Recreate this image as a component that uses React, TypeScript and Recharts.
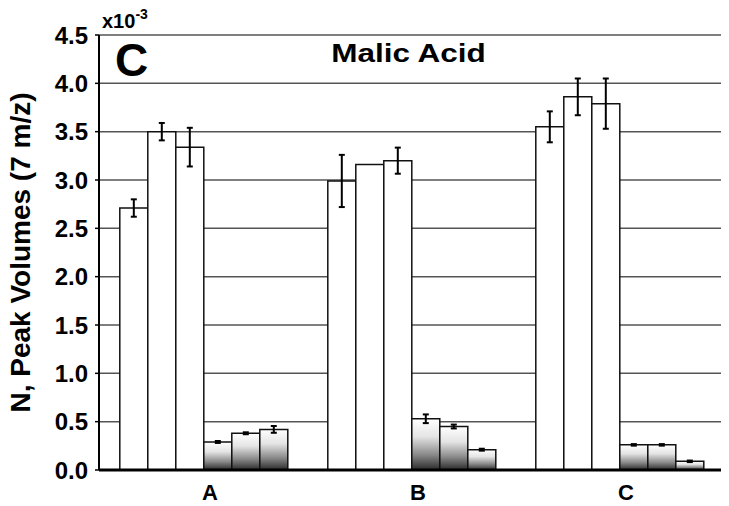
import React from "react";
import {
  BarChart,
  Bar,
  XAxis,
  YAxis,
  CartesianGrid,
  ErrorBar,
  Label,
} from "recharts";

// categories on the x axis
const categories = ["A", "B", "C"];

// three open (white) bars per group
const white1 = [2.71, 2.99, 3.55];
const white2 = [3.5, 3.16, 3.86];
const white3 = [3.34, 3.2, 3.79];
const whiteErr1 = [0.09, 0.27, 0.16];
const whiteErr2 = [0.09, 0, 0.19];
const whiteErr3 = [0.2, 0.135, 0.26];

// three shaded bars per group
const shaded1 = [0.29, 0.53, 0.26];
const shaded2 = [0.38, 0.45, 0.26];
const shaded3 = [0.42, 0.21, 0.09];
const shadedErr1 = [0.01, 0.045, 0.008];
const shadedErr2 = [0.01, 0.02, 0.008];
const shadedErr3 = [0.035, 0.01, 0.008];

const yTicks = [0, 0.5, 1, 1.5, 2, 2.5, 3, 3.5, 4, 4.5];
const edgeTicks = [0, 1, 2, 3];

const data = categories.map((name, i) => ({
  name,
  w1: white1[i],
  w2: white2[i],
  w3: white3[i],
  we1: whiteErr1[i],
  we2: whiteErr2[i],
  we3: whiteErr3[i],
  s1: shaded1[i],
  s2: shaded2[i],
  s3: shaded3[i],
  se1: shadedErr1[i],
  se2: shadedErr2[i],
  se3: shadedErr3[i],
}));

const FONT = '"Liberation Sans", Arial, Helvetica, sans-serif';

const series = [
  { key: "w1", err: "we1", fill: "#ffffff" },
  { key: "w2", err: "we2", fill: "#ffffff" },
  { key: "w3", err: "we3", fill: "#ffffff" },
  { key: "s1", err: "se1", fill: "url(#shade)" },
  { key: "s2", err: "se2", fill: "url(#shade)" },
  { key: "s3", err: "se3", fill: "url(#shade)" },
];

export default function App() {
  return (
    // pull the chart over the body margin so svg coords match the page
    <div style={{ position: "relative", margin: "-8px 0 0 -8px", width: 729, height: 506, fontFamily: FONT }}>
      <BarChart
        width={729}
        height={506}
        data={data}
        margin={{ top: 35, right: 6, left: 0, bottom: 0 }}
        barCategoryGap="10%"
        barGap={0}
      >
        <defs>
          <linearGradient id="shade" x1="0" y1="0" x2="0" y2="1">
            <stop offset="0%" stopColor="#ffffff" />
            <stop offset="35%" stopColor="#e4e4e4" />
            <stop offset="70%" stopColor="#8a8a8a" />
            <stop offset="100%" stopColor="#2a2a2a" />
          </linearGradient>
        </defs>
        <CartesianGrid vertical={false} stroke="#555" strokeWidth={1.5} />
        <XAxis
          xAxisId="edges"
          type="number"
          domain={[0, 3]}
          ticks={edgeTicks}
          height={0}
          axisLine={false}
          tickSize={5}
          tickLine={{ stroke: "#000", strokeWidth: 1.5 }}
          tickFormatter={() => ""}
        />
        <XAxis
          dataKey="name"
          height={36}
          axisLine={{ stroke: "#000", strokeWidth: 3 }}
          tickLine={false}
          tickSize={6}
          tickMargin={8}
          tick={{ fill: "#000", fontSize: 22, fontWeight: "bold", fontFamily: FONT, dx: 7 }}
        />
        <YAxis
          width={99}
          domain={[0, 4.5]}
          ticks={yTicks}
          tickFormatter={(v: number) => v.toFixed(1)}
          axisLine={{ stroke: "#000", strokeWidth: 2 }}
          tickLine={{ stroke: "#000", strokeWidth: 1.5 }}
          tickSize={4}
          tickMargin={7}
          tick={{ fill: "#000", fontSize: 24, fontWeight: "bold", fontFamily: FONT }}
        >
          <Label
            value="N, Peak Volumes (7 m/z)"
            angle={-90}
            position="insideLeft"
            offset={20}
            style={{
              textAnchor: "middle",
              fontSize: 28,
              fontWeight: "bold",
              fontFamily: FONT,
              fill: "#000",
            }}
          />
        </YAxis>
        <YAxis
          yAxisId="frame"
          orientation="right"
          width={0}
          domain={[0, 4.5]}
          tick={false}
          tickLine={false}
          axisLine={{ stroke: "#000", strokeWidth: 2 }}
        />
        {series.map((s) => (
          <Bar
            key={s.key}
            dataKey={s.key}
            fill={s.fill}
            stroke="#111"
            strokeWidth={1.5}
            isAnimationActive={false}
          >
            <ErrorBar dataKey={s.err} width={3} stroke="#000" strokeWidth={2} />
          </Bar>
        ))}
      </BarChart>

      <div
        style={{
          position: "absolute",
          left: 102,
          top: 11,
          fontSize: 20,
          fontWeight: "bold",
          lineHeight: 1,
          whiteSpace: "nowrap",
        }}
      >
        x10
        <span style={{ fontSize: 14, position: "relative", top: -9 }}>-3</span>
      </div>
      <div
        style={{
          position: "absolute",
          left: 115,
          top: 37,
          fontSize: 46,
          fontWeight: "bold",
          lineHeight: 1,
        }}
      >
        C
      </div>
      <div
        style={{
          position: "absolute",
          left: 308,
          top: 41,
          width: 201,
          textAlign: "center",
          fontSize: 25,
          fontWeight: "bold",
          lineHeight: 1,
          whiteSpace: "nowrap",
          transform: "scaleX(1.26)",
        }}
      >
        Malic Acid
      </div>
    </div>
  );
}
